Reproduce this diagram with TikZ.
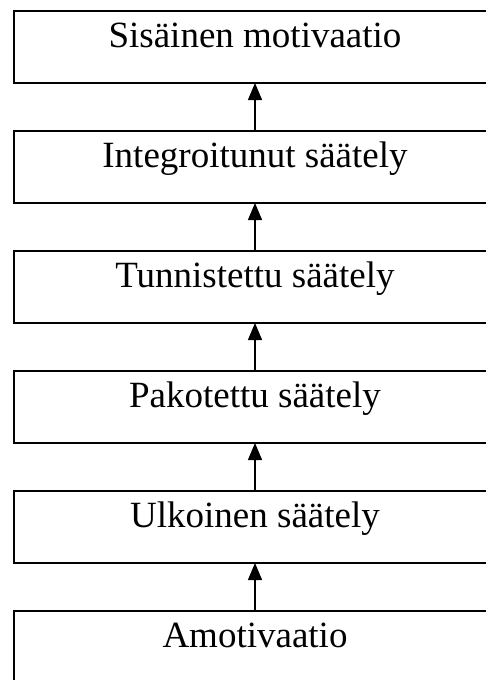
\documentclass[tikz,border=0pt]{standalone}
\usepackage{fontspec}
\setmainfont{Liberation Serif}
\usetikzlibrary{arrows.meta}
\begin{document}
\begin{tikzpicture}[x=1pt,y=-1pt,
  stage/.style={draw, line width=1.3pt, inner sep=0pt, outer sep=0pt,
    minimum width=482pt, text height=36pt, text depth=36pt,
    font=\fontsize{37}{40}\selectfont, anchor=north west},
  up/.style={-{Triangle[length=17pt,width=14pt]}, line width=1.3pt}]
\useasboundingbox (0,0) rectangle (486,680);
\clip (0,0) rectangle (486,680);
\node[stage] (n1) at (14,11)  {Sisäinen motivaatio};
\node[stage] (n2) at (14,131) {Integroitunut säätely};
\node[stage] (n3) at (14,251) {Tunnistettu säätely};
\node[stage] (n4) at (14,371) {Pakotettu säätely};
\node[stage] (n5) at (14,491) {Ulkoinen säätely};
\node[stage] (n6) at (14,611) {Amotivaatio};
\draw[up] (n2.north) -- (n1.south);
\draw[up] (n3.north) -- (n2.south);
\draw[up] (n4.north) -- (n3.south);
\draw[up] (n5.north) -- (n4.south);
\draw[up] (n6.north) -- (n5.south);
\end{tikzpicture}
\end{document}
